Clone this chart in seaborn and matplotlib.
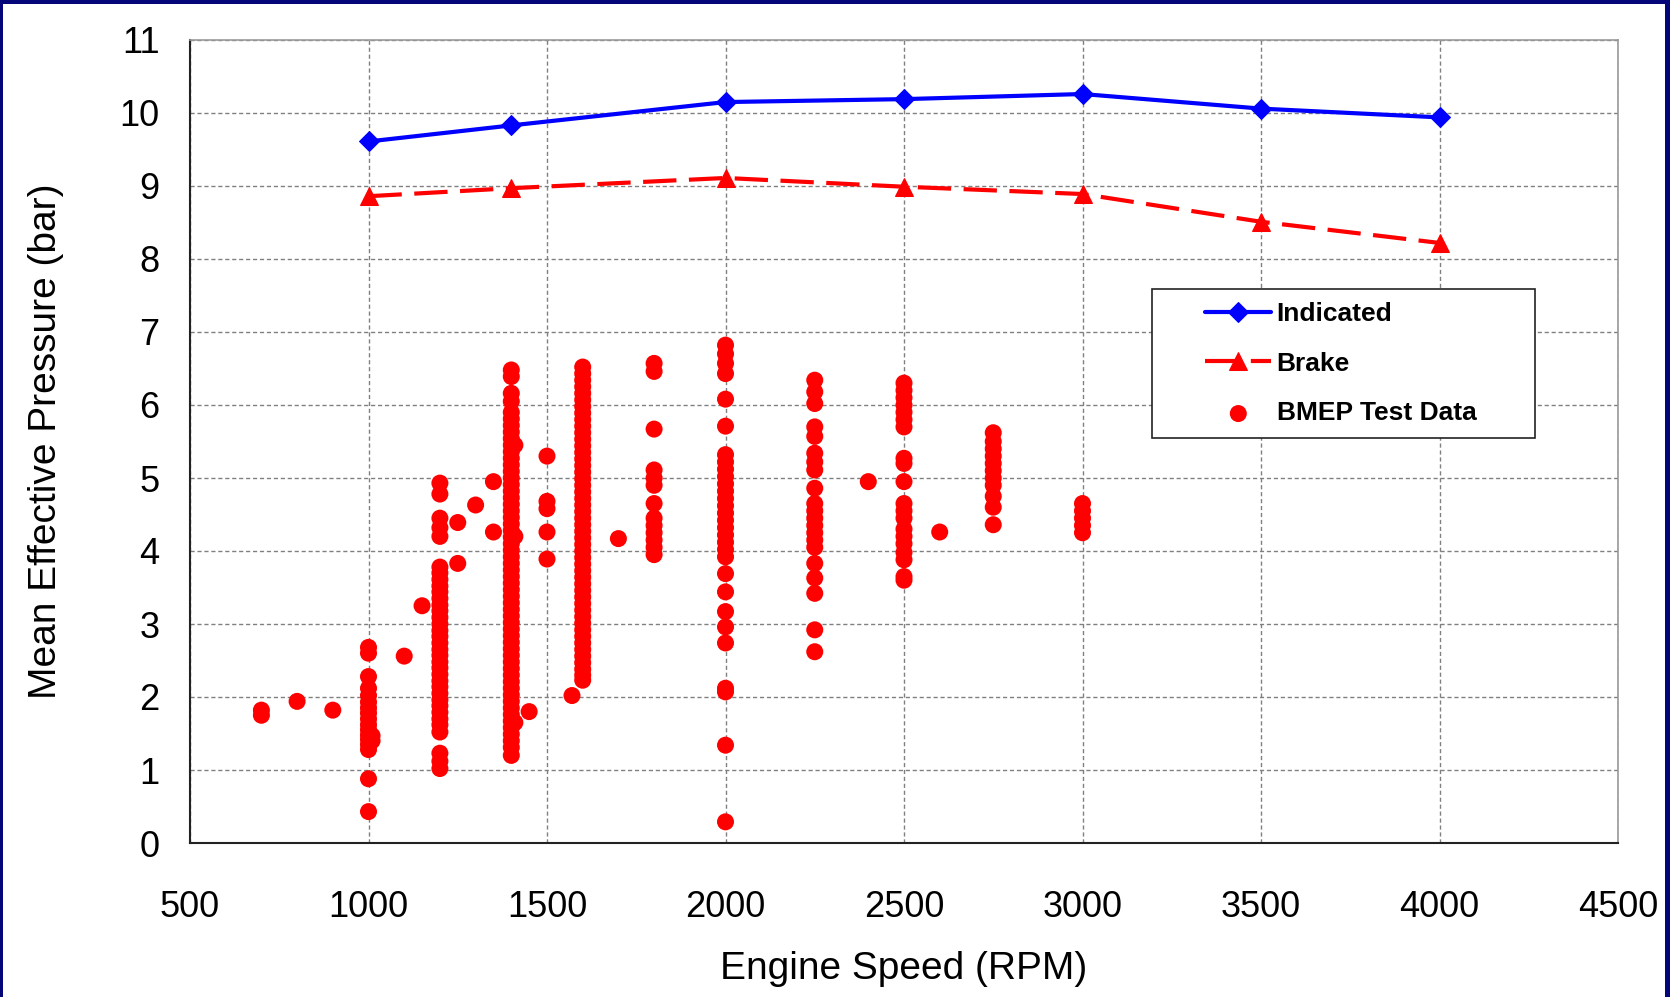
import numpy as np
import pandas as pd
import matplotlib.pyplot as plt
import seaborn as sns
from matplotlib.patches import Rectangle

# engine curves
speed = [1000, 1400, 2000, 2500, 3000, 3500, 4000]
indicated = [9.61, 9.83, 10.15, 10.19, 10.26, 10.06, 9.94]
brake = [8.86, 8.97, 9.11, 8.99, 8.89, 8.51, 8.22]

# BMEP test data, one list per engine speed
bmep_700 = [1.75, 1.82]
bmep_800 = [1.94]
bmep_900 = [1.82]
bmep_1000 = [2.68, 2.60, 2.28, 2.12, 2.02, 1.93, 1.85, 1.78, 1.70, 1.62, 1.55,
             1.48, 1.42, 1.35, 1.28, 0.88, 0.43]
bmep_1010 = [1.47, 1.40]
bmep_1100 = [2.56]
bmep_1150 = [3.25]
bmep_1200 = [4.93, 4.78, 4.45, 4.32, 4.20, 3.78, 3.70, 3.61, 3.52, 3.44, 3.35,
             3.26, 3.18, 3.09, 3.00, 2.91, 2.83, 2.74, 2.65, 2.57, 2.48, 2.40,
             2.31, 2.22, 2.14, 2.05, 1.96, 1.88, 1.79, 1.70, 1.62, 1.52, 1.23,
             1.12, 1.02]
bmep_1250 = [4.39, 3.83]
bmep_1300 = [4.63]
bmep_1350 = [4.95, 4.26]
bmep_1400 = [6.48, 6.39, 6.16, 6.05, 5.90, 5.81, 5.72, 5.63, 5.54, 5.45, 5.36,
             5.27, 5.18, 5.09, 5.00, 4.91, 4.82, 4.73, 4.64, 4.55, 4.46, 4.37,
             4.28, 4.19, 4.10, 4.01, 3.92, 3.83, 3.74, 3.65, 3.56, 3.47, 3.38,
             3.29, 3.20, 3.11, 3.02, 2.93, 2.84, 2.75, 2.66, 2.57, 2.48, 2.39,
             2.30, 2.21, 2.12, 2.03, 1.94, 1.85, 1.76, 1.67, 1.58, 1.49, 1.40,
             1.31, 1.20]
bmep_1410 = [5.45, 4.20, 1.65]
bmep_1450 = [1.80]
bmep_1500 = [5.30, 4.68, 4.58, 4.26, 3.89]
bmep_1570 = [2.02]
bmep_1600 = [6.52, 6.43, 6.34, 6.25, 6.16, 6.07, 5.98, 5.89, 5.80, 5.71, 5.62,
             5.53, 5.44, 5.35, 5.26, 5.17, 5.08, 4.99, 4.90, 4.81, 4.72, 4.63,
             4.54, 4.45, 4.36, 4.27, 4.18, 4.09, 4.00, 3.91, 3.82, 3.73, 3.64,
             3.55, 3.46, 3.37, 3.28, 3.19, 3.10, 3.01, 2.92, 2.83, 2.74, 2.65,
             2.56, 2.47, 2.38, 2.30, 2.23]
bmep_1700 = [4.17]
bmep_1800 = [6.57, 6.46, 5.67, 5.11, 5.00, 4.90, 4.65, 4.45, 4.35, 4.25, 4.15,
             4.05, 3.95]
bmep_2000 = [6.82, 6.70, 6.57, 6.43, 6.08, 5.71, 5.32, 5.22, 5.12, 5.02, 4.92,
             4.82, 4.72, 4.62, 4.52, 4.42, 4.32, 4.22, 4.12, 4.02, 3.92, 3.69,
             3.44, 3.17, 2.96, 2.74, 2.12, 2.07, 1.34, 0.29]
bmep_2250 = [6.34, 6.18, 6.02, 5.70, 5.57, 5.34, 5.22, 5.11, 4.86, 4.65, 4.55,
             4.45, 4.35, 4.25, 4.15, 4.05, 3.83, 3.63, 3.42, 2.92, 2.62]
bmep_2400 = [4.95]
bmep_2500 = [6.30, 6.20, 6.10, 6.00, 5.90, 5.80, 5.70, 5.27, 5.20, 4.95, 4.65,
             4.55, 4.45, 4.30, 4.20, 4.10, 3.98, 3.88, 3.65, 3.60]
bmep_2600 = [4.26]
bmep_2750 = [5.62, 5.50, 5.40, 5.30, 5.20, 5.10, 5.00, 4.90, 4.75, 4.60, 4.36]
bmep_3000 = [4.65, 4.55, 4.45, 4.35, 4.25]

columns = {700: bmep_700, 800: bmep_800, 900: bmep_900, 1000: bmep_1000,
           1010: bmep_1010, 1100: bmep_1100, 1150: bmep_1150, 1200: bmep_1200,
           1250: bmep_1250, 1300: bmep_1300, 1350: bmep_1350, 1400: bmep_1400,
           1410: bmep_1410, 1450: bmep_1450, 1500: bmep_1500, 1570: bmep_1570,
           1600: bmep_1600, 1700: bmep_1700, 1800: bmep_1800, 2000: bmep_2000,
           2250: bmep_2250, 2400: bmep_2400, 2500: bmep_2500, 2600: bmep_2600,
           2750: bmep_2750, 3000: bmep_3000}
test = pd.DataFrame([(k, v) for k, vals in columns.items() for v in vals],
                    columns=['rpm', 'bmep'])
curves = pd.DataFrame({'rpm': speed, 'indicated': indicated, 'brake': brake})

sns.set_style('white')
plt.rcParams['font.family'] = ['Liberation Sans', 'DejaVu Sans']
plt.rcParams['text.color'] = 'black'
plt.rcParams['axes.labelcolor'] = 'black'

fig = plt.figure(figsize=(16.7, 9.97), dpi=100)
ax = fig.add_axes([190 / 1670, 154 / 997, 1428 / 1670, 803 / 997])

sns.scatterplot(data=test, x='rpm', y='bmep', ax=ax, color='#ff0000', s=150,
                edgecolor='none', linewidth=0, label='BMEP Test Data', zorder=2)
sns.lineplot(data=curves, x='rpm', y='indicated', ax=ax, color='#0000ff', lw=3,
             marker='D', markersize=10, markeredgecolor='#0000ff',
             label='Indicated', zorder=3)
sns.lineplot(data=curves, x='rpm', y='brake', ax=ax, color='#ff0000', lw=3,
             linestyle=(0, (8, 3)), marker='^', markersize=13,
             markeredgecolor='#ff0000', label='Brake', zorder=3)

ax.set_xlim(500, 4500)
ax.set_ylim(0, 11)
ax.set_xticks(np.arange(500, 4501, 500))
ax.set_yticks(np.arange(0, 12, 1))
ax.tick_params(axis='both', labelsize=26, length=8, width=1.2, direction='out',
               color='#333333', labelcolor='black')
ax.tick_params(axis='x', pad=26)
ax.tick_params(axis='y', pad=14)

ax.grid(True, color='#808080', linestyle=(0, (3, 2)), lw=1)
ax.set_axisbelow(True)
for side in ['left', 'bottom']:
    ax.spines[side].set_color('#222222')
    ax.spines[side].set_linewidth(1.5)
for side in ['top', 'right']:
    ax.spines[side].set_color('#999999')
    ax.spines[side].set_linewidth(1.2)

ax.set_xlabel('Engine Speed (RPM)', fontsize=28)
ax.set_ylabel('Mean Effective Pressure (bar)', fontsize=28)
ax.xaxis.set_label_coords(0.5, -0.135)
ax.yaxis.set_label_coords(-0.088, 0.5)

# legend with a separate frame
handles, labels = ax.get_legend_handles_labels()
order = [labels.index(n) for n in ['Indicated', 'Brake', 'BMEP Test Data']]
ax.add_patch(Rectangle((0.674, 0.504), 0.268, 0.186, transform=ax.transAxes,
                       facecolor='white', edgecolor='#222222', lw=1.2, zorder=4))
leg = ax.legend([handles[i] for i in order], [labels[i] for i in order],
                loc='center left', bbox_to_anchor=(0.711, 0.597), frameon=False,
                borderpad=0, borderaxespad=0, handlelength=2.5,
                handletextpad=0.2, labelspacing=0.98,
                prop={'size': 19, 'weight': 'bold'})
leg.set_zorder(5)

# navy border round the slide
navy = '#05057a'
for rect in [(0, 0, 3 / 1670, 1), (0, 1 - 4 / 997, 1, 4 / 997),
             (1 - 5 / 1670, 0, 5 / 1670, 1)]:
    fig.patches.append(Rectangle(rect[:2], rect[2], rect[3], transform=fig.transFigure,
                                 facecolor=navy, edgecolor='none', zorder=10))

fig.savefig('out.png', dpi=100)
